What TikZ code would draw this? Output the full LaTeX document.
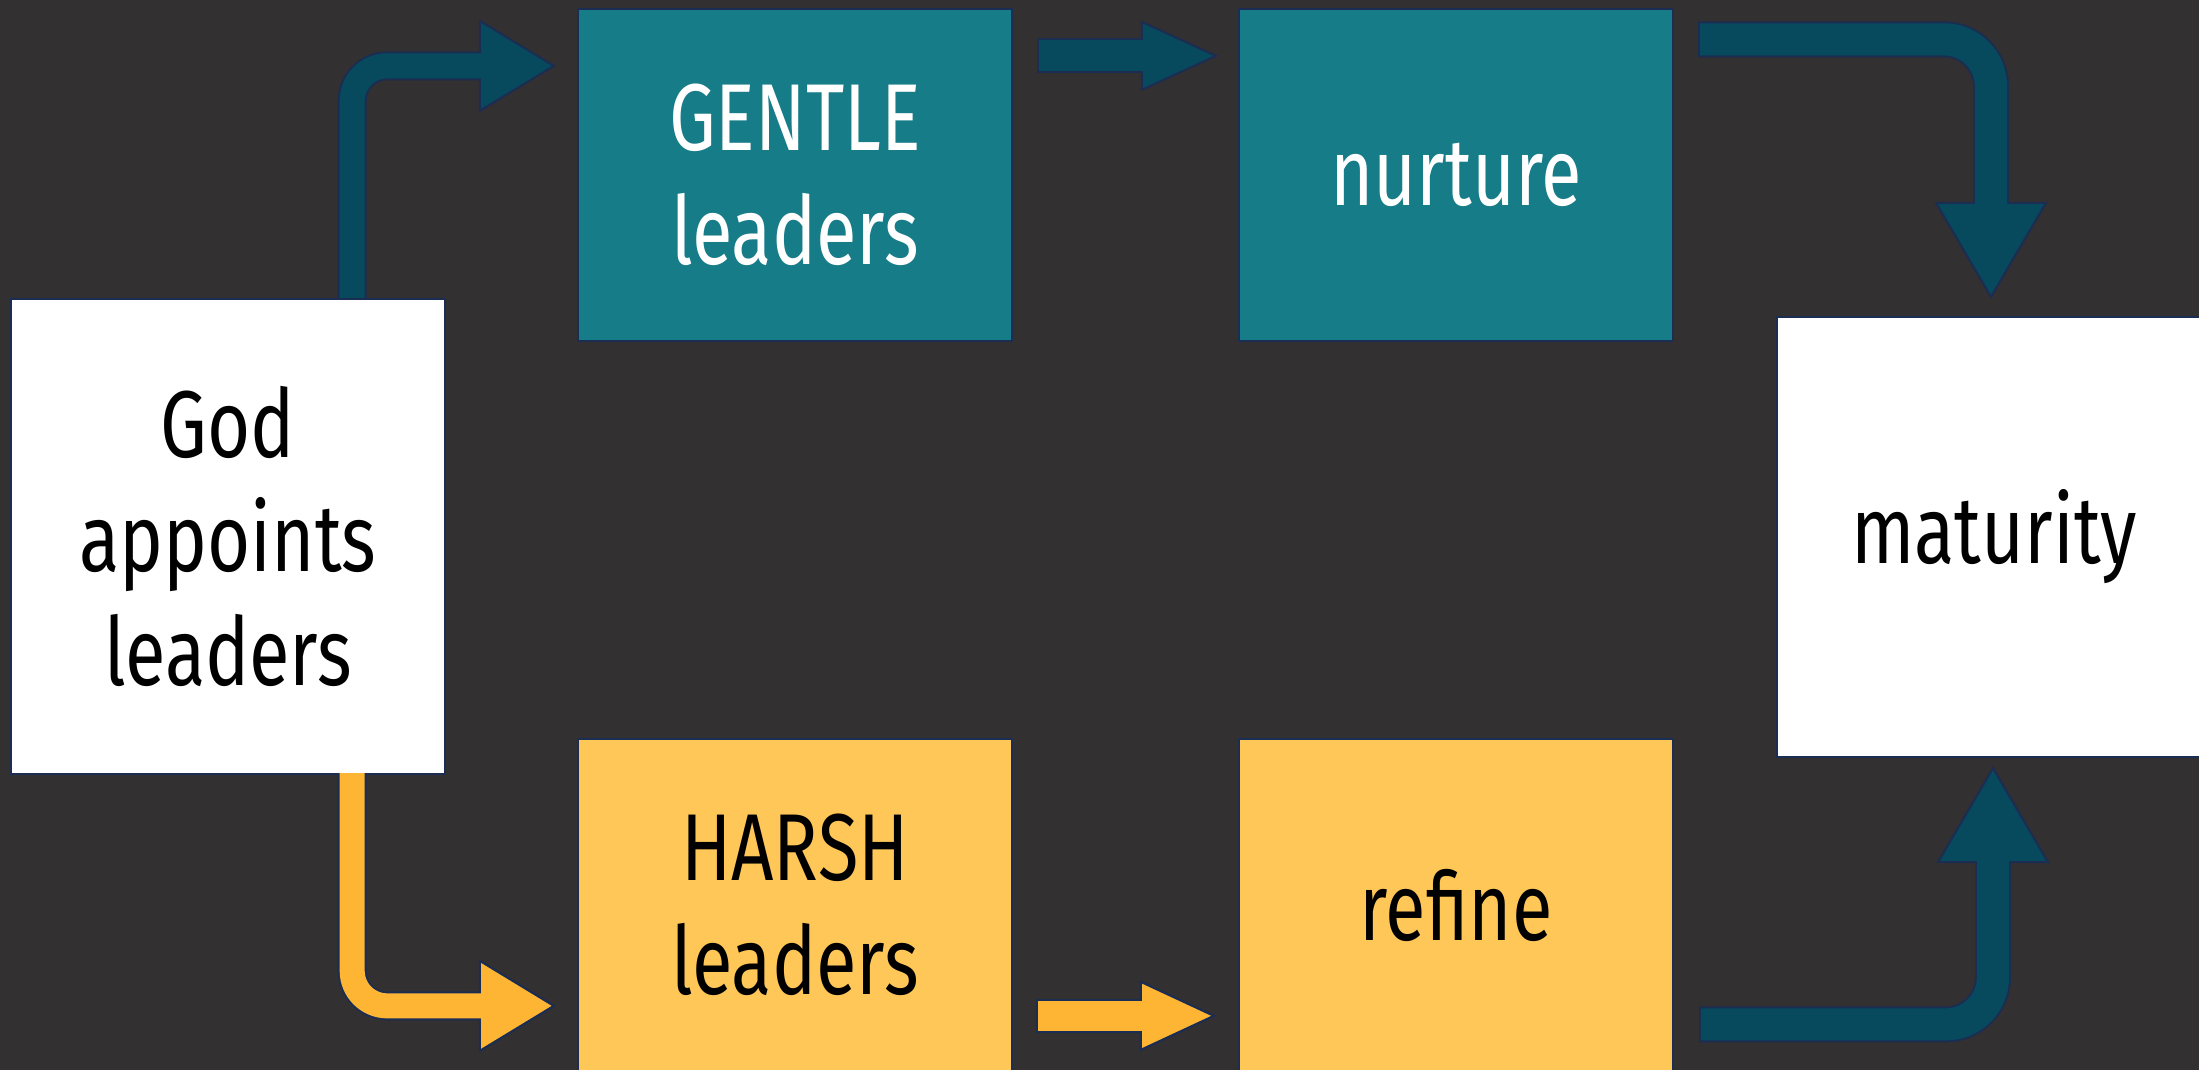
\documentclass[tikz,border=0pt]{standalone}
\usepackage{fontspec}
\setmainfont[FakeStretch=0.78]{Fira Sans}
\usetikzlibrary{calc}

\definecolor{backdrop}{RGB}{50,48,49}
\definecolor{edge}{RGB}{27,45,82}
\definecolor{tealbox}{RGB}{22,124,136}
\definecolor{tealarrow}{RGB}{7,74,94}
\definecolor{goldbox}{RGB}{255,199,88}
\definecolor{goldarrow}{RGB}{255,181,52}

\begin{document}
\begin{tikzpicture} [
    x = 0.01cm, y = -0.01cm,
    box/.style = {draw = edge, line width = 0.6pt, minimum width = 4.34cm, align = center,
        font = \fontsize{27}{32.5}\selectfont},
    gentlebox/.style = {box, fill = tealbox, text = white, minimum height = 3.32cm},
    harshbox/.style = {box, fill = goldbox, text = black, minimum height = 3.32cm},
    endbox/.style = {box, fill = white, text = black},
    head/.style = {draw = edge, line width = 0.6pt, fill = #1}
]

\useasboundingbox (0,0) rectangle (2199,1070);
\clip (0,0) rectangle (2199,1070);
\fill [backdrop] (0,0) rectangle (2199,1070);

% boxes
\node (god) at (228, 536.5) [endbox, minimum height = 4.75cm] {God\\appoints\\leaders};
\node (gentle) at (795, 175) [gentlebox] {GENTLE\\leaders};
\node (nurture) at (1456, 175) [gentlebox] {nurture};
\node (harsh) at (795, 905) [harshbox] {HARSH\\leaders};
\node (refine) at (1456, 905) [harshbox] {refine};
\node (maturity) at (1994, 537) [endbox, minimum height = 4.40cm] {maturity};

% arrow tips
\coordinate (gtip) at ($(gentle.north west)+(-23,58)$);
\coordinate (htip) at ($(harsh.north west)+(-23,268)$);
\coordinate (ntip) at ($(nurture.north west)+(-22,48)$);
\coordinate (rtip) at ($(refine.north west)+(-24,278)$);
\coordinate (mtop) at ($(maturity.north)+(-3,-19)$);
\coordinate (mbot) at ($(maturity.south)+(-1,10)$);

% god to gentle
\draw [edge, line width = 0.29cm, rounded corners = 0.35cm] ($(god.north east)+(-94,0)$) |- ($(gtip)+(-64,0)$);
\filldraw [head = tealarrow] (gtip) -- ++(-74,-45) -- ++(0,90) -- cycle;
\draw [tealarrow, line width = 0.25cm, rounded corners = 0.35cm] ($(god.north east)+(-94,0)$) |- ($(gtip)+(-64,0)$);

% god to harsh
\draw [edge, line width = 0.29cm, rounded corners = 0.35cm] ($(god.south east)+(-94,0)$) |- ($(htip)+(-64,0)$);
\filldraw [head = goldarrow] (htip) -- ++(-74,-45) -- ++(0,90) -- cycle;
\draw [goldarrow, line width = 0.25cm, rounded corners = 0.35cm] ($(god.south east)+(-94,-2)$) |- ($(htip)+(-64,0)$);

% gentle to nurture
\draw [edge, line width = 0.35cm] ($(gentle.north east)+(24,48)$) -- ($(ntip)+(-64,0)$);
\filldraw [head = tealarrow] (ntip) -- ++(-74,-34) -- ++(0,68) -- cycle;
\draw [tealarrow, line width = 0.31cm] ($(gentle.north east)+(26,48)$) -- ($(ntip)+(-64,0)$);

% harsh to refine
\draw [edge, line width = 0.34cm] ($(harsh.north east)+(23,278)$) -- ($(rtip)+(-64,0)$);
\filldraw [head = goldarrow] (rtip) -- ++(-73,-34) -- ++(0,68) -- cycle;
\draw [goldarrow, line width = 0.30cm] ($(harsh.north east)+(25,278)$) -- ($(rtip)+(-64,0)$);

% nurture to maturity
\draw [edge, line width = 0.36cm, rounded corners = 0.47cm] ($(nurture.north east)+(24,31.5)$) -| ($(mtop)+(0,-84)$);
\filldraw [head = tealarrow] (mtop) -- ++(-55,-94) -- ++(110,0) -- cycle;
\draw [tealarrow, line width = 0.32cm, rounded corners = 0.47cm] ($(nurture.north east)+(26,31.5)$) -| ($(mtop)+(0,-84)$);

% refine to maturity
\draw [edge, line width = 0.36cm, rounded corners = 0.47cm] ($(refine.north east)+(25,286.5)$) -| ($(mbot)+(0,84)$);
\filldraw [head = tealarrow] (mbot) -- ++(-55,94) -- ++(110,0) -- cycle;
\draw [tealarrow, line width = 0.32cm, rounded corners = 0.47cm] ($(refine.north east)+(27,286.5)$) -| ($(mbot)+(0,84)$);

\end{tikzpicture}
\end{document}
